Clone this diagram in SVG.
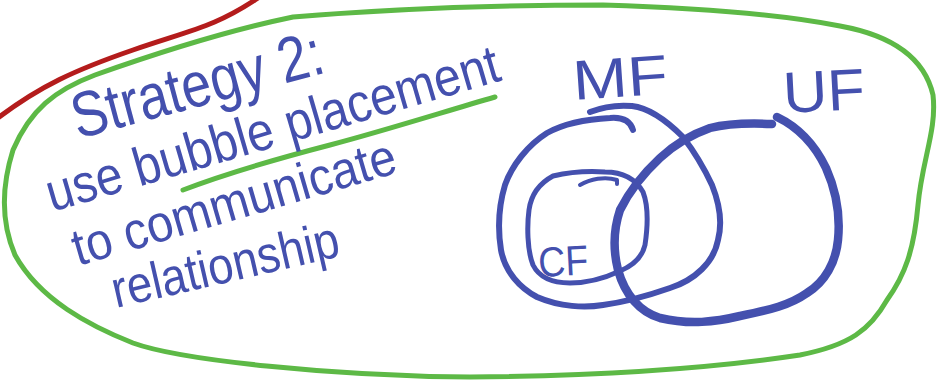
<svg xmlns="http://www.w3.org/2000/svg" width="939" height="381" viewBox="0 0 939 381">
  <style>
    .ink { fill: none; stroke-linecap: round; stroke-linejoin: round; }
    .blue { stroke: #4450ae; }
    .note { font-family: "Liberation Sans", "DejaVu Sans", sans-serif; fill: #4450ae; font-weight: 400; }
  </style>
  <rect width="939" height="381" fill="#ffffff"/>

  <!-- red boundary sweeping off the top edge -->
  <path id="red-boundary" class="ink" stroke="#b41c1c" stroke-width="5"
        d="M -2,118 C 40,86 75,70 133,50 S 215,27 258,-2"/>

  <!-- green enclosing loop -->
  <path id="strategy-frame" class="ink" stroke="#5db946" stroke-width="5"
        d="M 13,150 C 30,110 55,90 95,75 C 160,52 230,30 293,17 C 400,8 520,5 603,5
           C 700,8 780,14 840,26 C 895,36 925,60 933,95 C 937,130 922,160 918,205
           C 914,250 905,275 887,300 C 870,330 850,345 800,355 C 700,370 590,376 470,377
           C 330,376 180,360 133,343 C 90,326 40,300 15,255 C 0,220 2,185 13,150 Z"/>

  <!-- underline beneath "bubble placement" -->
  <path id="underline" class="ink" stroke="#5db946" stroke-width="5"
        d="M 183,190 C 230,172 280,158 330,145 S 440,113 495,97"/>

  <!-- handwritten notes -->
  <g id="notes">
    <text class="note" font-size="64" transform="translate(78,139) rotate(-15)" textLength="258" lengthAdjust="spacingAndGlyphs">Strategy 2:</text>
    <text class="note" font-size="54" transform="translate(52,212) rotate(-16.3)" textLength="470" lengthAdjust="spacingAndGlyphs">use bubble placement</text>
    <text class="note" font-size="52" transform="translate(78,266) rotate(-16.3)" textLength="335" lengthAdjust="spacingAndGlyphs">to communicate</text>
    <text class="note" font-size="52" transform="translate(116,308) rotate(-13)" textLength="232" lengthAdjust="spacingAndGlyphs">relationship</text>
  </g>

  <!-- MF bubble -->
  <g id="bubble-mf">
    <path class="ink blue" stroke-width="6"
          d="M 590,112 C 605,106 620,105 632,106 C 650,108 668,122 683,137
             C 693,150 705,170 712,185 C 720,205 722,225 718,240 C 714,262 695,280 670,288
             C 650,295 625,302 603,305 C 585,308 560,307 537,297 C 520,288 505,272 501,250
             C 497,225 499,205 505,185 C 512,165 528,145 547,133 C 565,123 590,119 610,118
             C 622,117 630,120 633,130"/>
    <text class="note" font-size="56" transform="translate(574,100) rotate(-4)" textLength="95" lengthAdjust="spacingAndGlyphs">MF</text>
  </g>

  <!-- UF bubble -->
  <g id="bubble-uf">
    <path class="ink blue" stroke-width="8.5"
          d="M 777,117 C 800,128 815,145 826,168 C 838,195 840,220 838,240
             C 836,262 825,282 807,293 C 790,305 770,310 740,316 C 715,322 690,325 660,318
             C 640,312 625,295 618,270 C 613,250 614,228 620,210 C 630,190 645,172 660,158
             C 675,144 690,135 710,128 C 730,123 752,123 772,124"/>
    <text class="note" font-size="58" transform="translate(784,113) rotate(-3)" textLength="82" lengthAdjust="spacingAndGlyphs">UF</text>
  </g>

  <!-- CF bubble, nested inside MF -->
  <g id="bubble-cf">
    <path class="ink blue" stroke-width="5"
          d="M 553,176 C 570,172 590,171 605,172 C 622,172 635,178 643,192
             C 648,205 648,225 645,245 C 642,258 632,266 620,271 C 605,278 588,283 570,283
             C 555,283 540,279 533,265 C 527,250 527,225 529,210 C 531,195 540,183 553,176 Z"/>
    <path class="ink blue" stroke-width="4" d="M 580,185 C 590,179 605,176 617,180 L 617,184"/>
    <text class="note" font-size="42" transform="translate(539,277) rotate(-3)" textLength="50" lengthAdjust="spacingAndGlyphs">CF</text>
  </g>
</svg>
